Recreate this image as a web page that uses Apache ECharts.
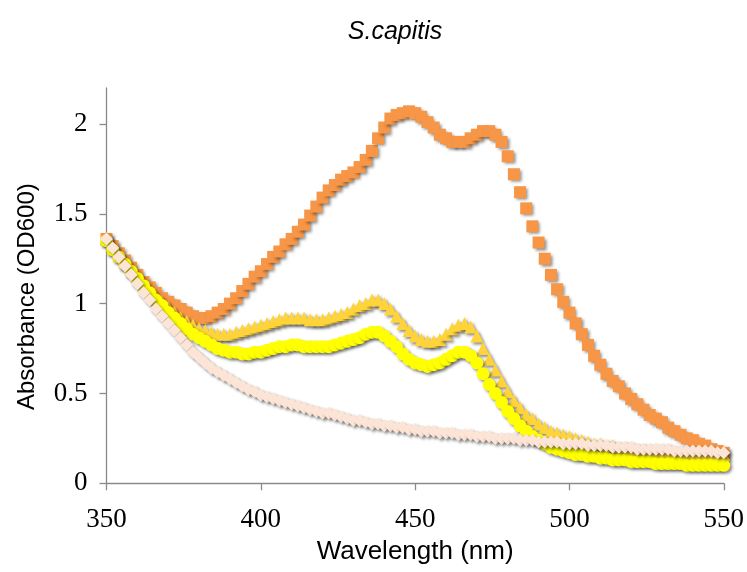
<!DOCTYPE html>
<html>
<head>
<meta charset="utf-8">
<script src="https://cdn.jsdelivr.net/npm/echarts@6/dist/echarts.min.js"></script>
<style>html,body{margin:0;padding:0;background:#fff;}#chart{width:747px;height:572px;}</style>
</head>
<body>
<div id="chart"></div>
<script>
const wavelengths = [350,352,354,356,358,360,362,364,366,368,370,372,374,376,378,380,382,384,386,388,390,392,394,396,398,400,402,404,406,408,410,412,414,416,418,420,422,424,426,428,430,432,434,436,438,440,442,444,446,448,450,452,454,456,458,460,462,464,466,468,470,472,474,476,478,480,482,484,486,488,490,492,494,496,498,500,502,504,506,508,510,512,514,516,518,520,522,524,526,528,530,532,534,536,538,540,542,544,546,548,550];

const orangeVals = [1.36,1.32,1.28,1.24,1.20,1.16,1.12,1.09,1.06,1.03,1.01,0.99,0.97,0.95,0.93,0.92,0.92,0.93,0.95,0.97,1.00,1.03,1.07,1.11,1.15,1.18,1.22,1.26,1.29,1.33,1.36,1.40,1.44,1.49,1.54,1.59,1.63,1.66,1.69,1.71,1.73,1.76,1.80,1.85,1.92,1.98,2.03,2.05,2.06,2.07,2.06,2.04,2.01,1.98,1.94,1.92,1.90,1.90,1.90,1.92,1.94,1.96,1.96,1.94,1.90,1.82,1.72,1.62,1.53,1.43,1.34,1.25,1.16,1.08,1.01,0.95,0.89,0.83,0.77,0.71,0.66,0.61,0.57,0.54,0.50,0.47,0.44,0.41,0.38,0.36,0.34,0.31,0.29,0.27,0.25,0.24,0.22,0.21,0.19,0.18,0.17];

const goldVals = [1.36,1.31,1.27,1.23,1.19,1.15,1.11,1.07,1.04,1.01,0.98,0.95,0.92,0.90,0.88,0.86,0.85,0.84,0.83,0.83,0.83,0.84,0.85,0.86,0.87,0.88,0.89,0.90,0.91,0.92,0.92,0.92,0.92,0.91,0.91,0.91,0.92,0.93,0.94,0.95,0.97,0.99,1.00,1.02,1.02,1.00,0.97,0.93,0.89,0.85,0.82,0.80,0.79,0.79,0.80,0.83,0.86,0.88,0.89,0.87,0.82,0.75,0.69,0.63,0.57,0.51,0.46,0.42,0.38,0.36,0.33,0.31,0.29,0.28,0.27,0.26,0.25,0.24,0.23,0.22,0.22,0.21,0.21,0.20,0.20,0.19,0.19,0.19,0.18,0.18,0.18,0.18,0.17,0.17,0.17,0.17,0.16,0.16,0.16,0.16,0.16];

const yellowVals = [1.35,1.30,1.26,1.22,1.18,1.14,1.10,1.06,1.02,0.99,0.95,0.92,0.89,0.86,0.83,0.81,0.79,0.77,0.75,0.74,0.73,0.73,0.72,0.72,0.73,0.73,0.74,0.75,0.76,0.76,0.77,0.77,0.76,0.76,0.76,0.76,0.76,0.77,0.78,0.79,0.80,0.81,0.83,0.84,0.84,0.82,0.79,0.76,0.72,0.69,0.67,0.66,0.65,0.66,0.67,0.69,0.71,0.73,0.73,0.71,0.67,0.61,0.55,0.50,0.45,0.40,0.36,0.32,0.29,0.26,0.24,0.22,0.20,0.19,0.18,0.17,0.16,0.16,0.15,0.15,0.14,0.14,0.13,0.13,0.13,0.12,0.12,0.12,0.12,0.11,0.11,0.11,0.11,0.11,0.10,0.10,0.10,0.10,0.10,0.10,0.10];

const peachVals = [1.36,1.31,1.26,1.21,1.16,1.11,1.06,1.02,0.97,0.93,0.89,0.85,0.81,0.77,0.73,0.70,0.67,0.64,0.62,0.60,0.58,0.56,0.54,0.52,0.51,0.49,0.48,0.47,0.46,0.45,0.44,0.43,0.42,0.41,0.40,0.39,0.39,0.38,0.37,0.36,0.35,0.35,0.34,0.33,0.33,0.32,0.32,0.31,0.31,0.30,0.30,0.29,0.29,0.29,0.28,0.28,0.28,0.27,0.27,0.27,0.26,0.26,0.26,0.25,0.25,0.25,0.25,0.24,0.24,0.24,0.23,0.23,0.23,0.23,0.22,0.22,0.22,0.22,0.21,0.21,0.21,0.21,0.20,0.20,0.20,0.20,0.19,0.19,0.19,0.19,0.19,0.19,0.18,0.18,0.18,0.18,0.18,0.18,0.18,0.17,0.17];

const xTicks = [350,400,450,500,550];
const yTicks = [0,0.5,1,1.5,2];

const titleText = 'S.capitis';
const xName = 'Wavelength (nm)';
const yName = 'Absorbance (OD600)';

function pts(vals){ return wavelengths.map((w,i)=>[w, vals[i]]); }

const shadow = {shadowBlur:3, shadowColor:'rgba(0,0,0,0.45)', shadowOffsetX:2, shadowOffsetY:2};

function mk(name, vals, symbol, size, color){
  return {
    name, type:'scatter', data: pts(vals), symbol, symbolSize:size,
    itemStyle: Object.assign({color:color, opacity:1}, shadow),
    emphasis:{disabled:true}
  };
}

const chart = echarts.init(document.getElementById('chart'), null, {renderer:'canvas'});
chart.setOption({
  animation:false,
  backgroundColor:'#ffffff',
  title:{
    text:titleText, left:390, top:15, textAlign:'center',
    textStyle:{fontFamily:'Liberation Sans', fontStyle:'italic', fontWeight:'normal', fontSize:25, color:'#000'}
  },
  grid:{left:106.5, right:23, top:88, bottom:88.7, containLabel:false},
  xAxis:{
    type:'value', min:350, max:550, interval:50,
    name:xName, nameLocation:'middle', nameGap:56,
    nameTextStyle:{fontFamily:'Liberation Sans', fontSize:26, color:'#000'},
    axisLine:{show:true, lineStyle:{color:'#8a8a8a', width:1.3}},
    axisTick:{show:true, inside:false, length:7, lineStyle:{color:'#8a8a8a', width:1.3}, customValues:xTicks},
    axisLabel:{margin:23, fontFamily:'Liberation Serif', fontSize:27, color:'#000', customValues:xTicks},
    splitLine:{show:false}
  },
  yAxis:{
    type:'value', min:0, max:2.2, interval:0.5,
    name:yName, nameLocation:'middle', nameGap:67, nameRotate:90,
    nameTextStyle:{fontFamily:'Liberation Sans', fontSize:24, color:'#000', padding:[0,22,0,0]},
    axisLine:{show:true, lineStyle:{color:'#8a8a8a', width:1.3}},
    axisTick:{show:true, inside:false, length:7, lineStyle:{color:'#8a8a8a', width:1.3}, customValues:yTicks},
    axisLabel:{margin:19, fontFamily:'Liberation Serif', fontSize:27, color:'#000', customValues:yTicks},
    splitLine:{show:false}
  },
  series:[
    mk('orange', orangeVals, 'rect', 12, '#F79646'),
    mk('gold', goldVals, 'triangle', 13, '#FFD43A'),
    mk('yellow', yellowVals, 'circle', 13, '#FFFF00'),
    mk('peach', peachVals, 'diamond', 13, '#FCE4D6')
  ]
});
</script>
</body>
</html>
